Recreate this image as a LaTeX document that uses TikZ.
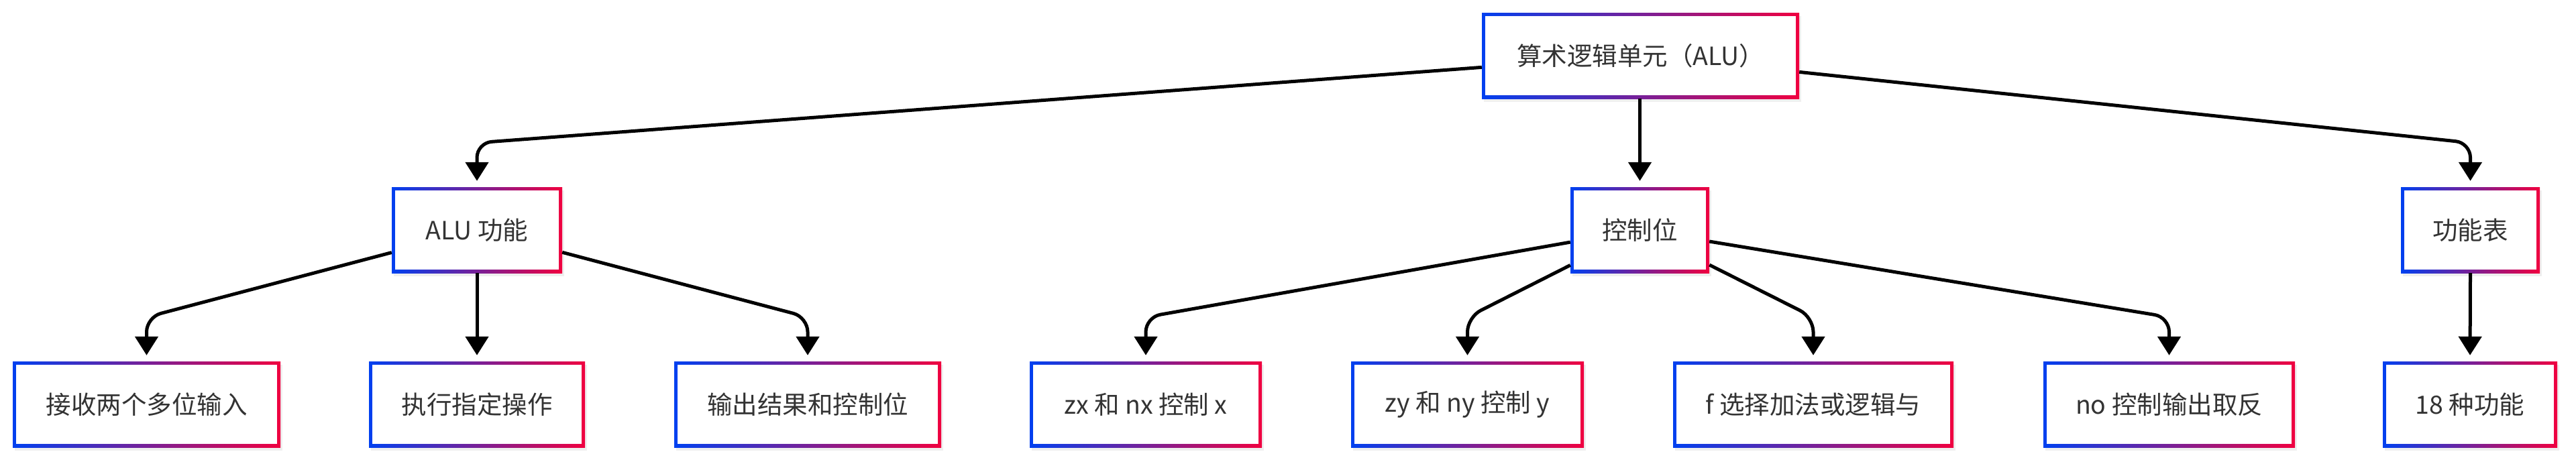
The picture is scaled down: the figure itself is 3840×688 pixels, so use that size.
\documentclass[tikz,border=0pt]{standalone}
\usepackage{fontspec}
\newfontfamily\cjk{Noto Sans CJK SC}
\usetikzlibrary{arrows.meta,shadows}
\definecolor{gblue}{RGB}{0,64,240}
\definecolor{gred}{RGB}{240,0,64}
\definecolor{txt}{RGB}{51,51,51}
\tikzset{
  box/.style={rectangle, inner sep=0pt, minimum height=128pt, minimum width=#1,
    left color=gblue, right color=gred,
    drop shadow={opacity=0.12, shadow xshift=3pt, shadow yshift=-5pt},
    path picture={\fill[white] ([shift={(5pt,5pt)}]path picture bounding box.south west)
       rectangle ([shift={(-5pt,-5pt)}]path picture bounding box.north east);},
    font=\cjk\fontsize{37.5pt}{45pt}\selectfont, text=txt},
  link/.style={draw=black, line width=5pt, rounded corners=22pt,
    -{Triangle[length=28pt,width=34pt]}, shorten >=9pt}
}
\begin{document}
\begin{tikzpicture}[x=1pt,y=-1pt]
\useasboundingbox[fill=white] (0,0) rectangle (3840,688);
\coordinate (m1) at (0,213);
\coordinate (m2) at (0,473);
% level 1
\node[box=473pt] (root) at (2445.5,83) {算术逻辑单元（ALU）};
% level 2
\node[box=254pt] (alu) at (711,343) {ALU 功能};
\node[box=207pt] (ctl) at (2444.5,343) {控制位};
\node[box=207pt] (tab) at (3682.5,343) {功能表};
% level 3
\node[box=399pt] (n1) at (218.5,603) {接收两个多位输入};
\node[box=322pt] (n2) at (711,603) {执行指定操作};
\node[box=398pt] (n3) at (1204,603) {输出结果和控制位};
\node[box=346pt] (n4) at (1708,603) {zx 和 nx 控制 x};
\node[box=347pt] (n5) at (2187.5,603) {zy 和 ny 控制 y};
\node[box=418pt] (n6) at (2703,603) {f 选择加法或逻辑与};
\node[box=375pt] (n7) at (3233.5,603) {no 控制输出取反};
\node[box=260pt] (n8) at (3682,603) {18 种功能};
% connectors
\draw[link] (root) -- (alu |- m1) -- (alu.north);
\draw[link] (root.south -| ctl.north) -- (ctl.north);
\draw[link] (root) -- (tab |- m1) -- (tab.north);
\draw[link] (alu) -- (n1 |- m2) -- (n1.north);
\draw[link] (alu.south) -- (n2.north);
\draw[link] (alu) -- (n3 |- m2) -- (n3.north);
\draw[link] (ctl) -- (n4 |- m2) -- (n4.north);
\draw[link] (ctl) -- (n5 |- m2) -- (n5.north);
\draw[link] (ctl) -- (n6 |- m2) -- (n6.north);
\draw[link] (ctl) -- (n7 |- m2) -- (n7.north);
\draw[link] (tab.south) -- (n8.north);
\end{tikzpicture}
\end{document}
